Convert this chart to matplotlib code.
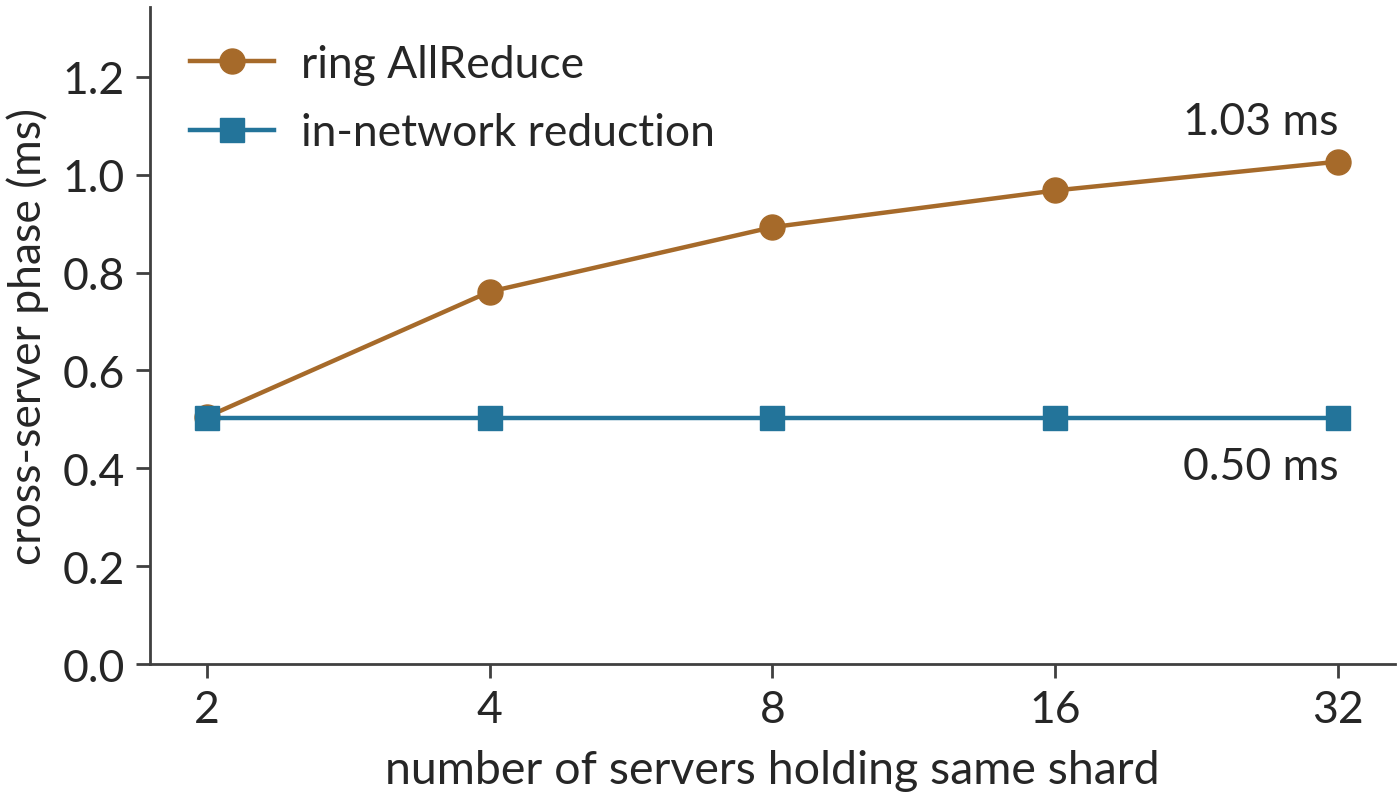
import matplotlib
matplotlib.use("Agg")
import matplotlib.pyplot as plt

servers = ["2", "4", "8", "16", "32"]
ring_allreduce = [0.505, 0.761, 0.893, 0.968, 1.027]
in_network = [0.503, 0.503, 0.503, 0.503, 0.503]
ring_label = "1.03 ms"
innet_label = "0.50 ms"

plt.rcParams['font.family'] = ['Lato', 'DejaVu Sans']
FS = 32
ORANGE = "#A66A2A"
BLUE = "#23749A"
DARK = "#262626"
SPINE = "#404040"

fig = plt.figure(figsize=(14, 8.04), dpi=100)
ax = fig.add_axes([150/1400, 1 - 665/804, (1395-150)/1400, (665-8)/804])

x = list(range(len(servers)))
ax.plot(x, ring_allreduce, color=ORANGE, lw=3.2, marker='o', ms=18, label="ring AllReduce", zorder=3)
ax.plot(x, in_network, color=BLUE, lw=3.2, marker='s', ms=17, label="in-network reduction", zorder=3)

ax.set_xlim(-0.2, 4.2)
ax.set_ylim(0, 1.343)
ax.set_xticks(x)
ax.set_xticklabels(servers)
ax.set_yticks([0, 0.2, 0.4, 0.6, 0.8, 1.0, 1.2])
ax.set_yticklabels(["0.0", "0.2", "0.4", "0.6", "0.8", "1.0", "1.2"])
ax.tick_params(labelsize=FS, colors=SPINE, labelcolor=DARK, width=2, length=10, pad=8)
for s in ["top", "right"]:
    ax.spines[s].set_visible(False)
for s in ["left", "bottom"]:
    ax.spines[s].set_color(SPINE)
    ax.spines[s].set_linewidth(2)

ax.set_xlabel("number of servers holding same shard", fontsize=33.5, color=DARK, labelpad=14)
ax.set_ylabel("cross-server phase (ms)", fontsize=FS, color=DARK, labelpad=10)

ax.annotate(ring_label, (x[-1], ring_allreduce[-1]), xytext=(0, 20), textcoords='offset points',
            ha='right', va='baseline', fontsize=FS, color=DARK)
ax.annotate(innet_label, (x[-1], in_network[-1]), xytext=(0, -44), textcoords='offset points',
            ha='right', va='baseline', fontsize=FS, color=DARK)

leg = ax.legend(loc='upper left', frameon=False, fontsize=FS, handlelength=1.9,
                handletextpad=0.6, labelspacing=0.62, bbox_to_anchor=(0.0, 1.005))
for t in leg.get_texts():
    t.set_color(DARK)

fig.savefig("out.png", dpi=100)
